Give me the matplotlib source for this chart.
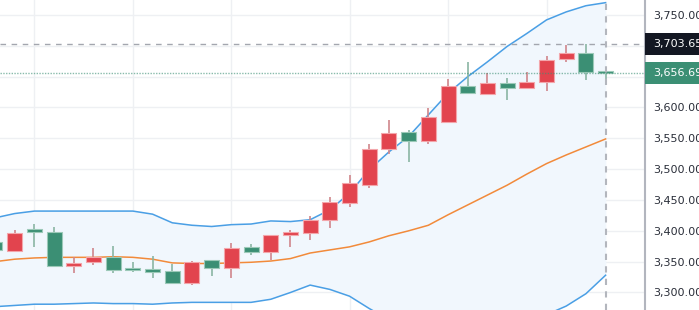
import matplotlib.pyplot as plt
import matplotlib.patches as patches
import matplotlib.transforms as transforms

# Candle data (one per trading day)
opens = [3382, 3368, 3403, 3398, 3343, 3349, 3358, 3339, 3338, 3335, 3316, 3352, 3339, 3373, 3366, 3393,
         3397, 3417, 3445, 3475, 3532, 3561, 3546, 3577, 3635, 3622, 3640, 3631, 3642, 3678, 3688, 3659]
highs = [3385, 3402, 3411, 3406, 3358, 3372, 3375, 3350, 3359, 3346, 3351, 3352, 3381, 3378, 3394, 3401,
         3424, 3455, 3490, 3540, 3579, 3564, 3599, 3646, 3674, 3656, 3648, 3657, 3684, 3702, 3703.65, 3660]
lows = [3365, 3366, 3373, 3342, 3332, 3344, 3331, 3334, 3324, 3316, 3312, 3327, 3323, 3361, 3353, 3374,
        3385, 3405, 3438, 3469, 3525, 3511, 3540, 3577, 3624, 3620, 3612, 3630, 3626, 3674, 3644, 3645]
closes = [3369, 3397, 3398, 3343, 3348, 3357, 3337, 3336, 3333, 3316, 3350, 3339, 3372, 3365, 3394, 3398,
          3417, 3447, 3477, 3533, 3558, 3545, 3584, 3635, 3624, 3639, 3632, 3642, 3677, 3689, 3658, 3656.69]

# Bollinger bands
bb_upper = [3421, 3428, 3432, 3432, 3432, 3432, 3432, 3432, 3427, 3413, 3409, 3407, 3410, 3411, 3416, 3415,
            3418, 3434, 3461, 3499, 3528, 3553, 3588, 3623, 3650, 3674, 3699, 3720, 3742, 3755, 3765, 3770]
bb_middle = [3350, 3354, 3356, 3357, 3357, 3357, 3358, 3357, 3354, 3348, 3347, 3347, 3348, 3349, 3351, 3355,
             3364, 3369, 3374, 3382, 3392, 3400, 3409, 3426, 3442, 3458, 3474, 3492, 3509, 3523, 3536, 3549]
bb_lower = [3277, 3279, 3281, 3281, 3282, 3283, 3282, 3282, 3281, 3283, 3284, 3284, 3284, 3284, 3289, 3300,
            3312, 3305, 3294, 3274, 3256, 3247, 3231, 3228, 3234, 3242, 3250, 3258, 3264, 3278, 3298, 3328]

y_ticks = [3300, 3350, 3400, 3450, 3500, 3550, 3600, 3650, 3700, 3750]
y_labels = ["3,300.00", "3,350.00", "3,400.00", "3,450.00", "3,500.00", "3,550.00", "3,600.00", "", "", "3,750.00"]
week_starts = [2, 7, 12, 18, 23, 28]

high_price = 3703.65
last_price = 3656.69

red = "#e2444e"
green = "#3b8f74"

fig = plt.figure(figsize=(6.99, 3.10), dpi=100)
ax = fig.add_axes([0, 0, 645 / 699, 1])

x = list(range(len(opens)))

# bands
ax.fill_between(x, bb_lower, bb_upper, color="#f1f7fd", zorder=1)
ax.plot(x, bb_upper, color="#4a9fe5", lw=1.1, zorder=2)
ax.plot(x, bb_lower, color="#4a9fe5", lw=1.1, zorder=2)
ax.plot(x, bb_middle, color="#f28a3a", lw=1.1, zorder=2)

# candles
for i in x:
    up = closes[i] >= opens[i]
    c = red if up else green
    wick = "#d0868b" if up else "#8ab5a3"
    edge = "#f3a6ab" if up else "#9cc9b8"
    ax.vlines(i, lows[i], highs[i], color=wick, lw=1.2, zorder=3)
    bottom = min(opens[i], closes[i])
    height = max(abs(closes[i] - opens[i]), 1.2)
    ax.bar(i, height, bottom=bottom, width=0.76, color=c, edgecolor=edge, linewidth=0.8, zorder=4)

# price lines
ax.axhline(high_price, color="#a3a6ae", lw=1, linestyle=(0, (4, 4)), zorder=5)
ax.axhline(last_price, color=green, lw=1, linestyle=(0, (1, 1)), alpha=0.6, zorder=5)
ax.axvline(31, color="#b3b6bd", lw=1.5, linestyle=(0, (3, 3)), zorder=5)

ax.set_xlim(0.254, 33.0)
ax.set_ylim(3271.6, 3774.3)

ax.set_xticks(week_starts)
ax.set_xticklabels([])
ax.set_yticks(y_ticks)
ax.set_yticklabels(y_labels)
ax.yaxis.tick_right()
ax.tick_params(axis="y", length=0, pad=6, labelsize=8, labelcolor="#2a2e39")
ax.tick_params(axis="x", length=0)
ax.grid(True, color="#eef0f3", lw=1, zorder=0)
ax.set_axisbelow(True)

for s in ["top", "left", "bottom"]:
    ax.spines[s].set_visible(False)
ax.spines["right"].set_color("#b2b5be")
ax.spines["right"].set_linewidth(1.5)

# price tags on the right scale
trans = transforms.blended_transform_factory(ax.transAxes, ax.transData)
for price, bg in [(high_price, "#131722"), (last_price, green)]:
    rect = patches.Rectangle((1.0, price - 17.8), 0.12, 35.6, transform=trans,
                             facecolor=bg, edgecolor="none", clip_on=False, zorder=6)
    ax.add_patch(rect)
    ax.text(1.012, price, f"{price:,.2f}", transform=trans, ha="left", va="center",
            fontsize=8, color="white", clip_on=False, zorder=7)

fig.savefig("out.png", dpi=100)
